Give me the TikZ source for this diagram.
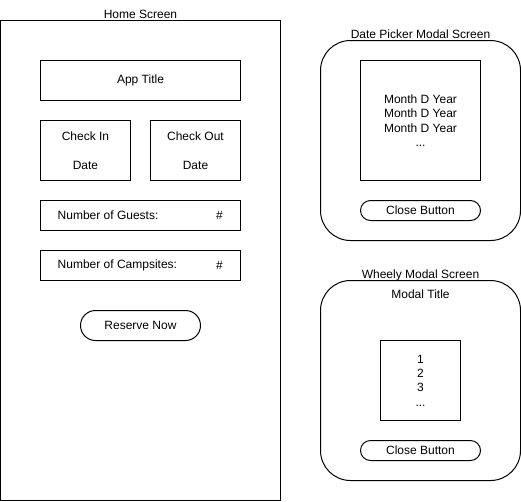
\documentclass[tikz,border=0pt]{standalone}
\usepackage{fontspec}
\setmainfont{Liberation Sans}
\begin{document}
\begin{tikzpicture}[x=1pt,y=-1pt,
  box/.style={draw,line width=1pt,inner sep=0pt,outer sep=0pt},
  pill/.style={draw,line width=1pt,rounded corners=10pt,inner sep=0pt,outer sep=0pt},
  modal/.style={draw,line width=1pt,rounded corners=30pt,inner sep=0pt,outer sep=0pt},
  lbl/.style={font=\fontsize{12}{14.4}\selectfont,inner sep=0pt,align=center},
  screentitle/.style={lbl,anchor=base}]
\useasboundingbox (0,0) rectangle (521,501);
% Home screen
\node[box,minimum width=280pt,minimum height=480pt] (home) at (140.5,260.5) {};
\node[screentitle] (homet) at ([yshift=2pt]home.north) {Home Screen};
\node[box,minimum width=200pt,minimum height=40pt] (title) at (140.5,80.5) {};
\node[lbl] at (title) {App Title};
\node[box,minimum width=90pt,minimum height=60pt] (cin) at (85.5,150.5) {};
\node[lbl] at (cin) {Check In\\[14.4pt]Date};
\node[box,minimum width=90pt,minimum height=60pt] (cout) at (195.5,150.5) {};
\node[lbl] at (cout) {Check Out\\[14.4pt]Date};
\node[box,minimum width=200pt,minimum height=30pt] (guests) at (140.5,215.5) {};
\node[lbl,anchor=west] at ([xshift=17pt]guests.west) {Number of Guests:};
\node[lbl] at ([xshift=-21pt]guests.east) {\#};
\node[box,minimum width=200pt,minimum height=30pt] (camps) at (140.5,265.5) {};
\node[lbl,anchor=west] at ([xshift=17pt]camps.west) {Number of Campsites:};
\node[lbl] at ([xshift=-21pt]camps.east) {\#};
\node[pill,minimum width=120pt,minimum height=30pt,rounded corners=15pt] (reserve) at (140.5,325.5) {};
\node[lbl] at (reserve) {Reserve Now};
% Date picker modal
\node[modal,minimum width=200pt,minimum height=200pt] (dp) at (420.5,140.5) {};
\node[screentitle] (dpt) at ([yshift=2pt]dp.north) {Date Picker Modal Screen};
\node[box,minimum width=120pt,minimum height=120pt] (dlist) at (420.5,120.5) {};
\node[lbl] at (dlist) {Month D Year\\Month D Year\\Month D Year\\...};
\node[pill,minimum width=120pt,minimum height=20pt] (dclose) at (420.5,210.5) {};
\node[lbl] at (dclose) {Close Button};
% Wheely modal
\node[modal,minimum width=200pt,minimum height=200pt] (wm) at (420.5,380.5) {};
\node[screentitle] (wmt) at ([yshift=2pt]wm.north) {Wheely Modal Screen};
\node[lbl] (mtitle) at (420.5,294) {Modal Title};
\node[box,minimum width=80pt,minimum height=80pt] (wlist) at (420.5,380.5) {};
\node[lbl] at (wlist) {1\\2\\3\\...};
\node[pill,minimum width=120pt,minimum height=20pt] (wclose) at (420.5,450.5) {};
\node[lbl] at (wclose) {Close Button};
\end{tikzpicture}
\end{document}
